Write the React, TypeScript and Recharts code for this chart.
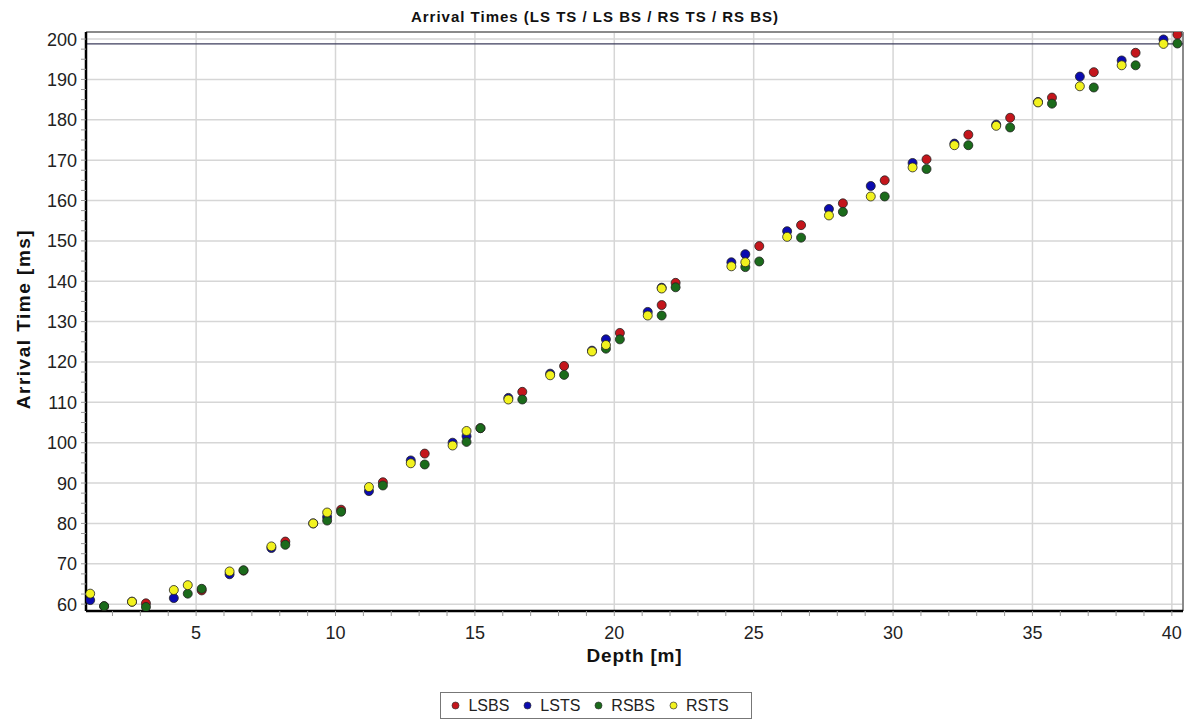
import React from 'react'
import { ScatterChart, Scatter, XAxis, YAxis, CartesianGrid, ReferenceLine } from 'recharts'

// depth [m] / arrival time [ms] per series
const LSBS_DEPTH = [1.7, 3.2, 5.2, 6.7, 8.2, 10.2, 11.7, 13.2, 15.2, 16.7, 18.2, 20.2, 21.7, 22.2, 25.2, 26.7, 28.2, 29.7, 31.2, 32.7, 34.2, 35.7, 37.2, 38.7, 40.2]
const LSBS_TIME = [59.5, 60.2, 63.4, 68.3, 75.5, 83.4, 90.2, 97.3, 103.6, 112.6, 119.0, 127.2, 134.1, 139.6, 148.7, 153.9, 159.3, 165.0, 170.2, 176.3, 180.5, 185.5, 191.8, 196.6, 201.1]

const LSTS_DEPTH = [1.2, 2.7, 4.2, 6.2, 7.7, 9.2, 9.7, 11.2, 12.7, 14.2, 14.7, 16.2, 17.7, 19.2, 19.7, 21.2, 21.7, 24.2, 24.7, 26.2, 27.7, 29.2, 30.7, 32.2, 33.7, 35.2, 36.7, 38.2, 39.7]
const LSTS_TIME = [61.0, 60.6, 61.5, 67.4, 73.9, 80.0, 81.6, 88.0, 95.6, 100.0, 101.6, 111.1, 117.1, 122.8, 125.6, 132.4, 138.4, 144.7, 146.7, 152.4, 157.9, 163.6, 169.3, 174.1, 178.8, 184.4, 190.7, 194.7, 199.9]

const RSBS_DEPTH = [1.7, 3.2, 4.7, 5.2, 6.7, 8.2, 9.7, 10.2, 11.7, 13.2, 14.7, 15.2, 16.7, 18.2, 19.7, 20.2, 21.7, 22.2, 24.7, 25.2, 26.7, 28.2, 29.7, 31.2, 32.7, 34.2, 35.7, 37.2, 38.7, 40.2]
const RSBS_TIME = [59.5, 59.3, 62.6, 63.8, 68.4, 74.7, 80.7, 82.9, 89.4, 94.6, 100.2, 103.6, 110.7, 116.8, 123.3, 125.6, 131.5, 138.5, 143.5, 144.9, 150.8, 157.2, 161.0, 167.8, 173.7, 178.1, 184.0, 188.0, 193.5, 198.9]

const RSTS_DEPTH = [1.2, 2.7, 4.2, 4.7, 6.2, 7.7, 9.2, 9.7, 11.2, 12.7, 14.2, 14.7, 16.2, 17.7, 19.2, 19.7, 21.2, 21.7, 24.2, 24.7, 26.2, 27.7, 29.2, 30.7, 32.2, 33.7, 35.2, 36.7, 38.2, 39.7]
const RSTS_TIME = [62.6, 60.6, 63.5, 64.7, 68.1, 74.3, 80.0, 82.7, 89.0, 94.9, 99.3, 102.9, 110.7, 116.7, 122.6, 124.2, 131.5, 138.2, 143.7, 144.7, 151.0, 156.3, 161.0, 168.2, 173.7, 178.5, 184.3, 188.3, 193.5, 198.8]

const X_LABELS = [5, 10, 15, 20, 25, 30, 35, 40]
const Y_LABELS = [60, 70, 80, 90, 100, 110, 120, 130, 140, 150, 160, 170, 180, 190, 200]
const MARKER_LINE = 198.8

const X_DOMAIN: [number, number] = [1.05, 40.4]
const Y_DOMAIN: [number, number] = [58.3, 201.75]

// minor ticks: every 1 m, every 2.5 ms
const X_TICKS = Array.from({ length: 39 }, (_, i) => i + 2)
const Y_TICKS = Array.from({ length: 57 }, (_, i) => 60 + i * 2.5)

const FONT = '"Liberation Sans", Arial, sans-serif'

const toPoints = (depth: number[], time: number[]) => depth.map((d, i) => ({ depth: d, time: time[i] }))

const SERIES = [
  { name: 'LSBS', color: '#c4161c', data: toPoints(LSBS_DEPTH, LSBS_TIME) },
  { name: 'LSTS', color: '#0b0bb0', data: toPoints(LSTS_DEPTH, LSTS_TIME) },
  { name: 'RSBS', color: '#1b6b1b', data: toPoints(RSBS_DEPTH, RSBS_TIME) },
  { name: 'RSTS', color: '#f2f21e', data: toPoints(RSTS_DEPTH, RSTS_TIME) },
]

const XTick = (props: any) => {
  const { x, y, payload } = props
  if (!X_LABELS.includes(payload.value)) return <g />
  return (
    <text x={x} y={y} dy="0.71em" textAnchor="middle" fill="#222" fontSize={18} fontFamily={FONT}>
      {payload.value}
    </text>
  )
}

const YTick = (props: any) => {
  const { x, y, payload } = props
  if (!Y_LABELS.includes(payload.value)) return <g />
  return (
    <text x={x} y={y} dy="0.36em" textAnchor="end" fill="#222" fontSize={18} fontFamily={FONT}>
      {payload.value}
    </text>
  )
}

const Dot = (color: string) => (props: any) => (
  <circle cx={props.cx} cy={props.cy} r={4.5} fill={color} stroke="#222" strokeWidth={0.8} />
)

export default function App() {
  return (
    <div style={{ position: 'absolute', left: 0, top: 0, width: 1200, height: 719, background: '#fff', fontFamily: FONT }}>
      <div style={{ position: 'absolute', top: 8, left: 0, width: 1190, textAlign: 'center', fontSize: 15, letterSpacing: 1, fontWeight: 'bold', color: '#111' }}>
        Arrival Times (LS TS / LS BS / RS TS / RS BS)
      </div>
      <ScatterChart width={1200} height={719} margin={{ top: 32, right: 17, left: 26, bottom: 48 }}>
        <CartesianGrid stroke="#d6d6d6" strokeWidth={1.5} horizontalValues={Y_LABELS} verticalValues={X_LABELS} />
        <XAxis
          type="number"
          dataKey="depth"
          domain={X_DOMAIN}
          allowDataOverflow
          ticks={X_TICKS}
          interval={0}
          height={60}
          tickSize={5}
          tickMargin={10}
          tick={<XTick />}
          tickLine={{ stroke: '#999' }}
          axisLine={{ stroke: '#000', strokeWidth: 2.5 }}
          label={{
            content: (p: any) => (
              <text x={p.viewBox.x + p.viewBox.width / 2} y={655} dy="0.35em" textAnchor="middle" fontSize={19} letterSpacing={0.8} fontWeight="bold" fontFamily={FONT} fill="#111">
                Depth [m]
              </text>
            ),
          }}
        />
        <YAxis
          type="number"
          dataKey="time"
          domain={Y_DOMAIN}
          allowDataOverflow
          ticks={Y_TICKS}
          interval={0}
          width={60}
          tickSize={5}
          tickMargin={4}
          tick={<YTick />}
          tickLine={{ stroke: '#999' }}
          axisLine={{ stroke: '#000', strokeWidth: 2.5 }}
          label={{
            content: () => (
              <text transform="translate(23,319) rotate(-90)" dy="0.35em" textAnchor="middle" fontSize={19} letterSpacing={1.5} fontWeight="bold" fontFamily={FONT} fill="#111">
                Arrival Time [ms]
              </text>
            ),
          }}
        />
        <ReferenceLine y={Y_DOMAIN[1]} stroke="#8a8a8a" strokeWidth={2} />
        <ReferenceLine x={X_DOMAIN[1]} stroke="#8a8a8a" strokeWidth={2} />
        <ReferenceLine y={MARKER_LINE} stroke="#3d3d5c" strokeWidth={1.2} />
        {SERIES.map((s) => (
          <Scatter key={s.name} name={s.name} data={s.data} fill={s.color} shape={Dot(s.color)} isAnimationActive={false} />
        ))}
      </ScatterChart>
      <div style={{ position: 'absolute', top: 692, left: 0, width: 1192, display: 'flex', justifyContent: 'center' }}>
        <div style={{ display: 'flex', alignItems: 'center', border: '1.5px solid #777', padding: '2px 8px 2px 10px', height: 21, fontSize: 16, color: '#222' }}>
          {SERIES.map((s) => (
            <div key={s.name} style={{ display: 'flex', alignItems: 'center', marginRight: 14 }}>
              <svg width={9} height={9} style={{ marginRight: 8 }}>
                <circle cx={4.5} cy={4.5} r={3.5} fill={s.color} stroke="#333" strokeWidth={0.7} />
              </svg>
              {s.name}
            </div>
          ))}
        </div>
      </div>
    </div>
  )
}
